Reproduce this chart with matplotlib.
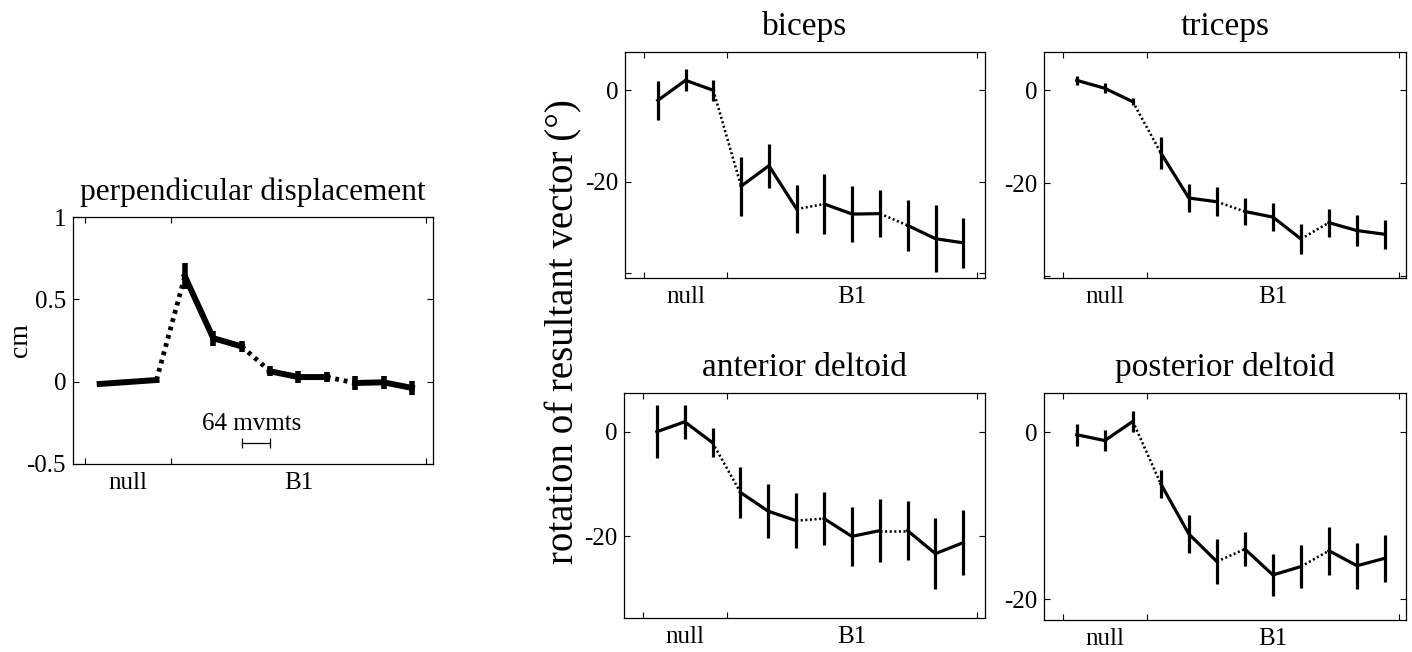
import numpy as np
import matplotlib
matplotlib.use("Agg")
import matplotlib.pyplot as plt
from matplotlib.ticker import FixedLocator, FixedFormatter

plt.rcParams['font.family'] = ['Liberation Serif', 'DejaVu Serif']
plt.rcParams['axes.unicode_minus'] = False

# ---- data ----
block_labels = ["null", "B1"]
n_points = 12

perp_mean = [-0.014, -0.002, 0.01, 0.64, 0.264, 0.214, 0.063, 0.028, 0.028, -0.008, -0.004, -0.038]
perp_err = [0.008, 0.006, 0.008, 0.08, 0.045, 0.035, 0.03, 0.035, 0.03, 0.04, 0.04, 0.045]

biceps_mean = [-2.2, 2.2, 0.0, -21.0, -16.5, -26.0, -24.9, -27.1, -27.0, -29.6, -32.5, -33.4]
biceps_err = [4.2, 2.4, 2.25, 6.5, 4.8, 5.2, 6.5, 6.1, 5.2, 5.5, 7.3, 5.5]

triceps_mean = [2.1, 0.4, -2.5, -13.5, -23.2, -24.0, -26.1, -27.3, -32.0, -28.5, -30.2, -31.0]
triceps_err = [1.0, 1.1, 0.8, 3.5, 3.1, 3.1, 2.9, 3.0, 3.3, 3.0, 3.4, 3.1]

antdelt_mean = [0.0, 1.9, -2.1, -11.6, -15.2, -17.0, -16.6, -20.0, -18.9, -18.9, -23.3, -21.2]
antdelt_err = [5.1, 3.2, 2.8, 4.9, 5.2, 5.3, 5.1, 5.6, 6.0, 5.65, 6.8, 6.2]

postdelt_mean = [-0.3, -1.0, 1.3, -6.2, -12.2, -15.5, -14.0, -17.1, -16.1, -14.2, -16.0, -15.1]
postdelt_err = [1.3, 1.3, 1.25, 1.7, 2.3, 2.65, 2.0, 2.5, 2.6, 2.85, 2.75, 2.8]

scale_label = "64 mvmts"

idx = np.arange(n_points)

fig = plt.figure(figsize=(14.12, 6.52), dpi=100)


def style_axes(ax, xlim, ylim, yticks, yticklabels, fs=18):
    ax.set_xlim(*xlim)
    ax.set_ylim(*ylim)
    ax.xaxis.set_major_locator(FixedLocator([-0.5, 2.5, 11.5]))
    ax.xaxis.set_major_formatter(FixedFormatter(["", "", ""]))
    ax.xaxis.set_minor_locator(FixedLocator([1, 7]))
    ax.xaxis.set_minor_formatter(FixedFormatter(block_labels))
    ax.tick_params(axis='x', which='minor', length=0, labelsize=fs, pad=6)
    ax.set_yticks(yticks)
    ax.set_yticklabels(yticklabels)
    ax.tick_params(axis='both', which='major', direction='in', top=True, right=True,
                   length=4, width=0.8, labelsize=fs, pad=5)
    for sp in ax.spines.values():
        sp.set_linewidth(0.9)


def draw(ax, mean, err, lw, elw):
    mean = np.asarray(mean)
    for s in range(0, n_points, 3):
        ax.plot(idx[s:s + 3], mean[s:s + 3], color='k', lw=lw, solid_joinstyle='miter')
    for s in (2, 5, 8):
        ax.plot(idx[s:s + 2], mean[s:s + 2], color='k', lw=lw * 0.8, ls=(0, (0.8, 1.0)))
    ax.errorbar(idx, mean, yerr=err, fmt='none', ecolor='k', elinewidth=elw, capsize=0)


W, H = 1412, 652


def rect(x0, y0, x1, y1):
    return [x0 / W, 1 - y1 / H, (x1 - x0) / W, (y1 - y0) / H]


# left panel
ax0 = fig.add_axes(rect(73, 217, 433, 464))
draw(ax0, perp_mean, perp_err, 4.3, 4.0)
style_axes(ax0, (-0.94, 11.74), (-0.5, 1.0), [-0.5, 0, 0.5, 1], ["-0.5", "0", "0.5", "1"])
ax0.set_title("perpendicular displacement", fontsize=22.5, pad=12)
fig.text(20 / W, 1 - 340 / H, "cm", rotation=90, fontsize=20, ha='center', va='center')
ax0.plot([5.0, 6.0], [-0.37, -0.37], color='k', lw=0.9, marker='|', ms=7, mew=0.9)
ax0.text(5.35, -0.26, scale_label, fontsize=18, ha='center', va='center')

# right panels
ax1 = fig.add_axes(rect(625, 52, 985, 278))
draw(ax1, biceps_mean, biceps_err, 2.3, 2.3)
style_axes(ax1, (-1.18, 11.78), (-41.1, 8.4), [-40, -20, 0], ["", "-20", "0"])
ax1.set_title("biceps", fontsize=24, pad=12)

ax2 = fig.add_axes(rect(1044, 52, 1406, 278))
draw(ax2, triceps_mean, triceps_err, 2.3, 2.3)
style_axes(ax2, (-1.17, 11.75), (-40.4, 8.2), [-40, -20, 0], ["", "-20", "0"])
ax2.set_title("triceps", fontsize=24, pad=12)

ax3 = fig.add_axes(rect(624, 393, 985, 618))
draw(ax3, antdelt_mean, antdelt_err, 2.3, 2.3)
style_axes(ax3, (-1.18, 11.78), (-35.6, 7.4), [-20, 0], ["-20", "0"])
ax3.set_title("anterior deltoid", fontsize=24, pad=12)

ax4 = fig.add_axes(rect(1044, 393, 1406, 620))
draw(ax4, postdelt_mean, postdelt_err, 2.3, 2.3)
style_axes(ax4, (-1.17, 11.75), (-22.5, 4.7), [-20, 0], ["-20", "0"])
ax4.set_title("posterior deltoid", fontsize=24, pad=12)

fig.text(564 / W, 1 - 332 / H, "rotation of resultant vector (°)", rotation=90,
         fontsize=28, ha='center', va='center')

fig.savefig("out.png", dpi=100)
